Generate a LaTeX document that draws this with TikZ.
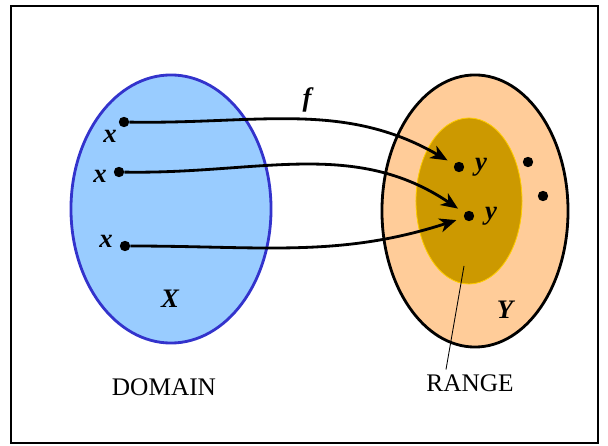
\documentclass[tikz,border=0pt]{standalone}
\usepackage{fontspec}
\setmainfont{Liberation Serif}
\usetikzlibrary{shapes.geometric,arrows.meta}
\definecolor{domainblue}{HTML}{99CCFF}
\definecolor{domainedge}{HTML}{3333CC}
\definecolor{codomain}{HTML}{FFCC99}
\definecolor{rangefill}{HTML}{CC9900}
\definecolor{rangeedge}{HTML}{FFCC00}

\begin{document}
\begin{tikzpicture}[x=0.025cm,y=-0.025cm,
    dot/.style={circle,fill=black,inner sep=0pt,minimum size=0.26cm},
    var/.style={font=\fontsize{19}{21}\selectfont\bfseries\itshape},
    word/.style={font=\fontsize{18}{20}\selectfont},
    map/.style={-{Stealth[length=12pt,width=10pt,inset=3.5pt]},line width=2pt,shorten >=5.5pt}]
    \useasboundingbox (0,0) rectangle (608,446);
    \draw[line width=1.6pt] (11,6) rectangle (598,443);

    % sets
    \node[ellipse,draw=domainedge,fill=domainblue,line width=2pt,inner sep=0pt,
          minimum width=5cm,minimum height=6.7cm] (X) at (171,209) {};
    \node[ellipse,draw=black,fill=codomain,line width=2pt,inner sep=0pt,
          minimum width=4.65cm,minimum height=6.8cm] (Y) at (475,211) {};
    \node[ellipse,draw=rangeedge,fill=rangefill,line width=0.6pt,inner sep=0pt,
          minimum width=2.65cm,minimum height=4.15cm] (R) at (469,201) {};

    % points
    \node[dot] (x1) at (124,122) {};
    \node[dot] (x2) at (119,172) {};
    \node[dot] (x3) at (125,246) {};
    \node[dot] (y1) at (459,167) {};
    \node[dot] (y2) at (469,216) {};
    \node[dot] (y3) at (528,162) {};
    \node[dot] (y4) at (543,196) {};

    % labels
    \node[var] (lx1) at (110,136) {x};
    \node[var] (lx2) at (100,176) {x};
    \node[var] (lx3) at (106,241) {x};
    \node[var] (ly1) at (481,167) {y};
    \node[var] (ly2) at (491,216) {y};
    \node[var] (lX) at (170,299) {X};
    \node[var] (lY) at (505,310) {Y};
    \node[var] (lf) at (307,100) {f};
    \node[word] (domain) at (164,387) {DOMAIN};
    \node[word] (range) at (470,383) {RANGE};

    % mapping
    \path[map] (x1) edge[out=-1,in=150] (y1);
    \path[map] (x2) edge[out=-1,in=146] (y2);
    \path[map] (x3) edge[out=0,in=198] (y2);

    \coordinate (rp) at (464,266);
    \draw[line width=0.6pt] (rp) -- ([xshift=-0.6cm]range.north);
\end{tikzpicture}
\end{document}
